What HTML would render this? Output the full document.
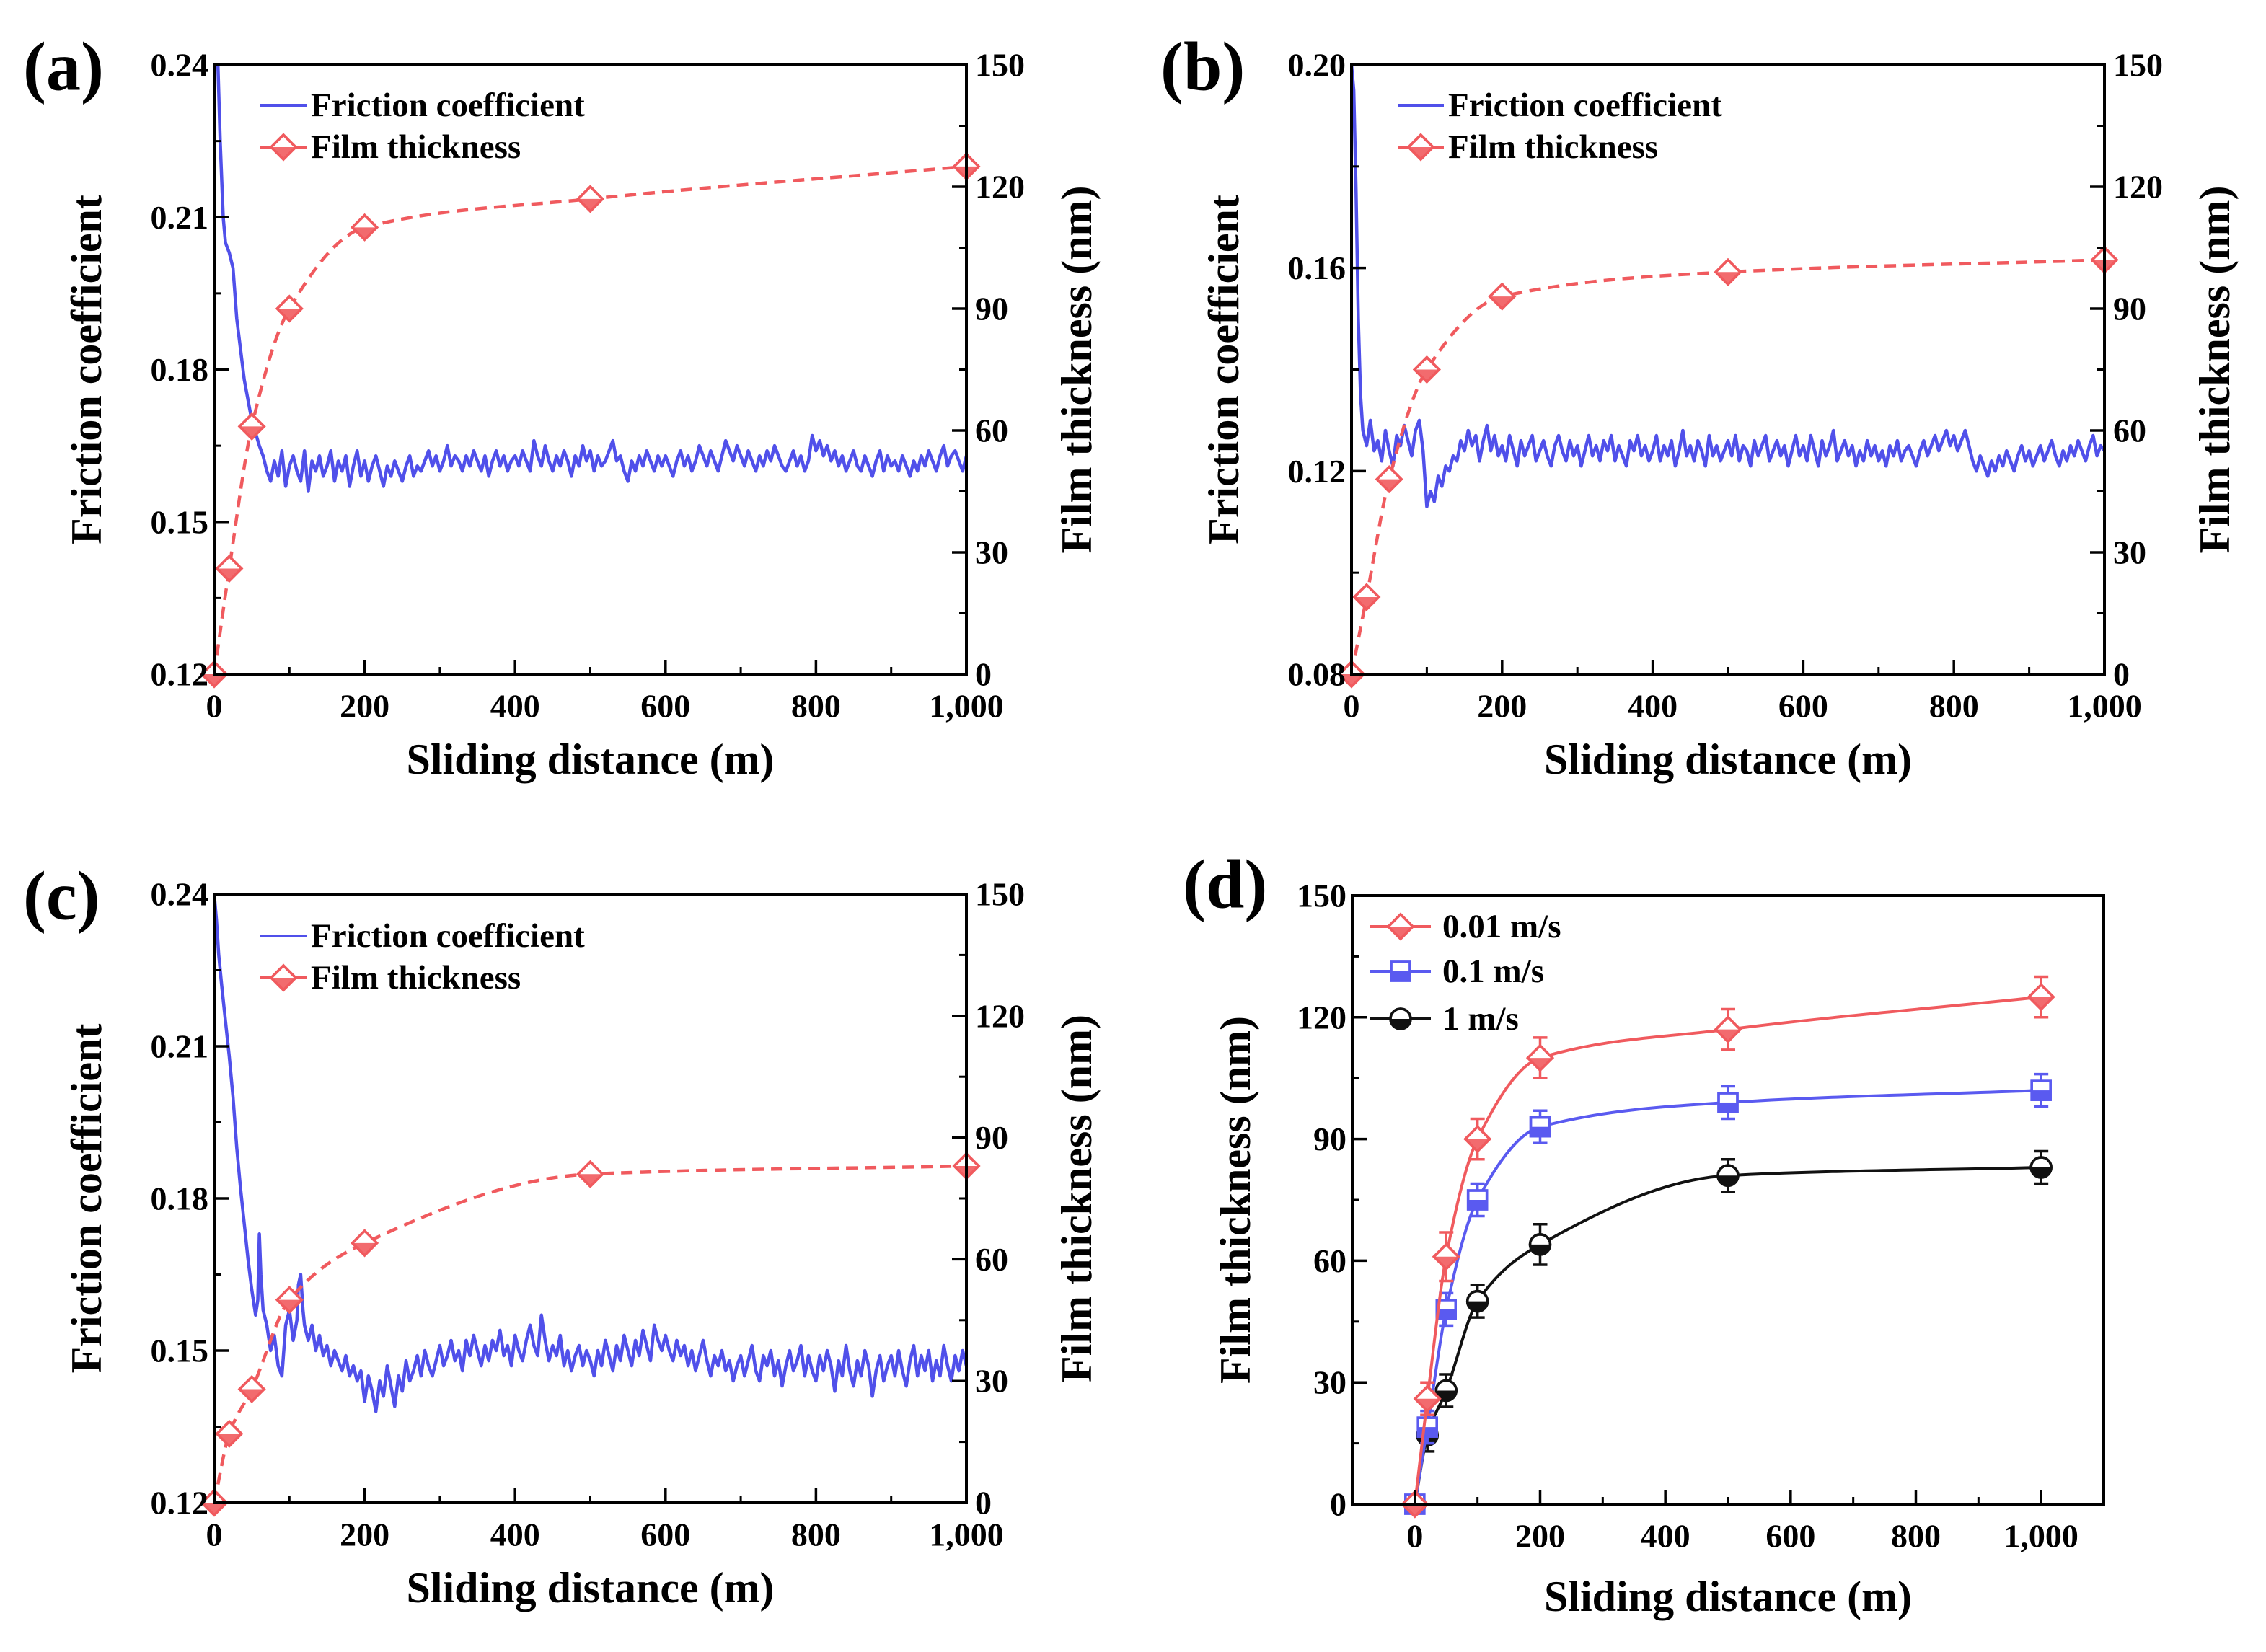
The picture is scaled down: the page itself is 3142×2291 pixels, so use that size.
<!DOCTYPE html>
<html><head><meta charset="utf-8"><style>
html,body{margin:0;padding:0;background:#fff;}
svg{display:block;font-family:"Liberation Serif",serif;font-weight:bold;}
</style></head><body>
<svg id="fig" width="3142" height="2291" viewBox="0 0 3142 2291" xmlns="http://www.w3.org/2000/svg"></svg>
<script>
// ---------------- data ----------------
const filmX = [0,20,50,100,200,500,1000];
const film001 = [0,26,61,90,110,117,125];
const film01 = [0,19,48,75,93,99,102];
const film1 = [0,17,28,50,64,81,83];
const filmErr001 = [0,4,6,5,5,5,5];
const filmErr01 = [0,4,4,4,4,4,4];
const filmErr1 = [0,4,4,4,5,4,4];

const fricAX0 = [0,5,8,12,15,20,25,30,40,50,60,65,70];
const fricAY0 = [.24,.24,.225,.21,.205,.203,.2,.19,.178,.17,.165,.163,.16];
const fricAStart = 75;
const fricAVals = "158 162 159 164 157 161 163 160 158 164 156 162 160 163 159 161 164 158 162 160 163 157 161 164 159 162 158 161 163 160 157 161 159 162 160 158 161 163 159 161 160 162 164 161 163 160 162 165 161 163 162 160 163 161 164 162 160 163 159 162 164 161 163 160 162 163 161 164 162 160 166 163 161 165 162 160 163 161 164 162 159 163 161 165 162 164 160 163 161 162 164 166 162 163 160 158 162 160 163 161 164 162 160 163 161 163 161 159 162 164 161 163 160 162 165 163 161 164 162 160 163 166 164 162 165 163 161 164 162 160 163 161 164 162 165 163 161 160 162 164 161 163 160 162 167 164 166 163 165 162 164 161 163 160 162 164 161 160 163 161 159 162 164 160 163 161 162 160 163 161 159 162 160 163 161 164 162 160 163 165 161 163 164 162 160 163";

const fricBX0 = [0,3,6,9,12,15,20,25,30];
const fricBY0 = [.20,.195,.175,.15,.135,.128,.125,.13,.124];
const fricBStart = 35;
const fricBVals = "126 122 128 124 121 127 125 129 126 123 128 130 124 113 116 114 119 117 121 120 123 122 126 124 128 125 127 122 126 129 124 127 123 125 122 127 124 121 126 123 125 127 122 124 126 123 121 125 127 124 122 126 123 125 121 124 127 123 125 122 126 124 127 122 125 123 121 126 124 127 123 125 122 124 127 122 125 123 126 121 124 128 123 125 122 126 124 121 127 123 125 122 124 126 123 127 122 125 124 121 126 123 125 127 122 124 126 123 125 121 124 127 123 125 122 127 124 121 126 123 125 128 122 124 126 123 125 121 124 122 126 123 125 122 124 121 125 123 126 122 124 125 123 121 124 126 123 125 127 124 126 128 125 127 124 126 128 125 122 120 123 121 119 122 120 123 121 124 122 120 123 125 122 124 121 123 125 122 124 126 123 121 124 122 125 123 126 124 122 125 127 123 125 124";

const fricCX0 = [0,3,6,10,15,20,25,30,35,40,45,50,55,58,60,62,65,70,75,80,85,90,95,100,105,110,112,115,118,120];
const fricCY0 = [.24,.235,.228,.222,.215,.208,.2,.19,.182,.175,.168,.162,.157,.160,.173,.165,.158,.155,.150,.153,.147,.145,.155,.158,.152,.156,.163,.165,.158,.155];
const fricCStart = 125;
const fricCVals = "152 155 150 153 149 151 147 150 148 146 149 145 147 144 146 140 145 142 138 144 141 147 143 139 145 142 148 144 146 149 145 150 147 145 148 151 147 149 152 148 150 146 152 149 153 150 147 151 148 152 150 154 149 151 147 153 150 148 152 155 151 149 157 152 148 151 149 153 147 150 146 149 151 147 150 148 145 150 147 152 149 146 151 148 153 150 147 152 149 154 151 148 155 152 150 153 150 148 152 149 151 147 150 146 149 152 148 145 149 147 150 146 148 144 147 149 145 148 151 146 144 149 147 150 145 148 143 147 150 146 148 151 145 149 146 144 149 146 150 147 142 148 145 151 146 143 148 145 150 147 141 146 149 144 147 149 145 150 146 143 148 151 145 149 146 150 144 148 145 151 147 144 149 146 150 147";

const xTicks = [0,200,400,600,800,1000];
const xTickLabels = ["0","200","400","600","800","1,000"];
const filmTicks = [0,30,60,90,120,150];
const fricTicksA = [0.12,0.15,0.18,0.21,0.24];
const fricTicksB = [0.08,0.12,0.16,0.20];

// ---------------- drawing ----------------
const NS="http://www.w3.org/2000/svg";
const svg=document.getElementById('fig');
const TICKF=46, TITLEF=60, LEGF=47, LETF=96;
function el(tag,attrs,parent){const e=document.createElementNS(NS,tag);for(const k in attrs)e.setAttribute(k,attrs[k]);(parent||svg).appendChild(e);return e;}
function txt(s,x,y,size,anchor,parent,rot){const t=el('text',{x:x,y:y,'font-size':size,'text-anchor':anchor||'middle','dominant-baseline':'central'},parent);if(rot)t.setAttribute('transform','rotate('+rot+' '+x+' '+y+')');t.textContent=s;return t;}
function scale(d0,d1,r0,r1){return v=>r0+(v-d0)/(d1-d0)*(r1-r0);}
function expand(start,str){const v=str.trim().split(/\s+/).map(Number);return {x:v.map((_,i)=>start+i*5),y:v.map(n=>n/1000)};}
function monoPath(px,py){
  const n=px.length,d=[],m=[];
  for(let i=0;i<n-1;i++)d.push((py[i+1]-py[i])/(px[i+1]-px[i]));
  m[0]=d[0];m[n-1]=d[n-2];
  for(let i=1;i<n-1;i++){if(d[i-1]*d[i]>0){const w1=2*(px[i+1]-px[i])+(px[i]-px[i-1]),w2=(px[i+1]-px[i])+2*(px[i]-px[i-1]);m[i]=(w1+w2)/(w1/d[i-1]+w2/d[i]);}else m[i]=0;}
  let s='M'+px[0]+','+py[0];
  for(let i=0;i<n-1;i++){const h=px[i+1]-px[i];s+=' C'+(px[i]+h/3)+','+(py[i]+m[i]*h/3)+' '+(px[i+1]-h/3)+','+(py[i+1]-m[i+1]*h/3)+' '+px[i+1]+','+py[i+1];}
  return s;
}
const RED='#f05a5e',RFILL='#f26b6e',BLUE='#5050ea';

function marker(kind,x,y,color,g){
  const r=17;
  const mg=el('g',{},g);
  
  
  if(kind==='circle'){
    el('circle',{cx:x,cy:y,r:14,fill:'#fff',stroke:color,'stroke-width':3.5},mg);
    el('path',{d:`M${x-14},${y} A14,14 0 0 0 ${x+14},${y} Z`,fill:color},mg);
    el('circle',{cx:x,cy:y,r:14,fill:'none',stroke:color,'stroke-width':3.5},mg);
  }else{
    const shape=kind==='diamond'?`M${x},${y-r} L${x+r},${y} L${x},${y+r} L${x-r},${y} Z`:`M${x-13},${y-13} H${x+13} V${y+13} H${x-13} Z`;
    el('path',{d:shape,fill:'#fff',stroke:color,'stroke-width':3.5},mg);
    if(kind==='diamond')el('path',{d:`M${x-r},${y} L${x+r},${y} L${x},${y+r} Z`,fill:RFILL},mg);
    else el('rect',{x:x-13,y:y,width:26,height:13,fill:color},mg);
    el('path',{d:shape,fill:'none',stroke:color,'stroke-width':3.5},mg);
  }
}

function axesFrame(g,L,R,T,B){
  const f=el('rect',{x:L,y:T,width:R-L,height:B-T,fill:'none',stroke:'#000','stroke-width':4},g);
  
}
function xAxis(g,sx,L,R,B,ticks,labels,minorStep,d0,d1){
  const ax=el('g',{},g);
  for(let v=d0;v<=d1+1e-9;v+=minorStep){const x=sx(v);if(x<L-1||x>R+1)continue;el('line',{x1:x,y1:B,x2:x,y2:B-10,stroke:'#000','stroke-width':3},ax);}
  ticks.forEach((v,i)=>{const x=sx(v);el('line',{x1:x,y1:B,x2:x,y2:B-20,stroke:'#000','stroke-width':3.5},ax);txt(labels[i],x,B+44,TICKF,'middle',ax);});
}
function yAxis(g,sy,T,B,x,ticks,labels,minors,side){
  const ax=el('g',{},g);
  const dir=side==='left'?1:-1;
  minors.forEach(v=>{const y=sy(v);el('line',{x1:x,y1:y,x2:x+dir*10,y2:y,stroke:'#000','stroke-width':3},ax);});
  ticks.forEach((v,i)=>{const y=sy(v);el('line',{x1:x,y1:y,x2:x+dir*20,y2:y,stroke:'#000','stroke-width':3.5},ax);
    txt(labels[i],side==='left'?x-8:x+12,y,TICKF,side==='left'?'end':'start',ax);});
}

function frictionPanel(name,letter,L,R,T,B,fr0,fr1,fTicks,fLabels,fMinors,x0,y0,start,vals,filmY,legendY){
  const g=el('g',{});
  const sx=scale(0,1000,L,R),sy=scale(fr0,fr1,B,T),sf=scale(0,150,B,T);
  const clip='clip'+name;
  const cp=el('clipPath',{id:clip},g);el('rect',{x:L,y:T,width:R-L,height:B-T},cp);
  const st=expand(start,vals);const xs=x0.concat(st.x),ys=y0.concat(st.y);
  const fl=el('polyline',{points:xs.map((x,i)=>sx(x).toFixed(1)+','+sy(ys[i]).toFixed(1)).join(' '),fill:'none',stroke:BLUE,'stroke-width':4.5,'stroke-linejoin':'round','clip-path':'url(#'+clip+')'},g);
  
  const px=filmX.map(sx),py=filmY.map(sf);
  const dl=el('path',{d:monoPath(px,py),fill:'none',stroke:RED,'stroke-width':4.5,'stroke-dasharray':'16 10'},g);
  
  filmX.forEach((v,i)=>marker('diamond',px[i],py[i],RED,g));
  axesFrame(g,L,R,T,B);
  xAxis(g,sx,L,R,B,xTicks,xTickLabels,100,0,1000);
  yAxis(g,sy,T,B,L,fTicks,fLabels,fMinors,'left');
  yAxis(g,sf,T,B,R,filmTicks,filmTicks.map(String),[15,45,75,105,135],'right');
  const t1=txt('Sliding distance (m)',(L+R)/2,B+118,TITLEF,'middle',g);
  const t2=txt('Friction coefficient',L-177,(T+B)/2,TITLEF,'middle',g,-90);
  const t3=txt('Film thickness (nm)',R+153,(T+B)/2,TITLEF,'middle',g,-90);
  const pl=txt(letter,L-265,T+2,LETF,'start',g);
  const lg=el('g',{},g);
  const e1=el('g',{},lg);
  el('line',{x1:L+64,y1:legendY,x2:L+128,y2:legendY,stroke:BLUE,'stroke-width':4},e1);
  txt('Friction coefficient',L+134,legendY,LEGF,'start',e1);
  const e2=el('g',{},lg);
  el('line',{x1:L+64,y1:legendY+58,x2:L+128,y2:legendY+58,stroke:RED,'stroke-width':4},e2);
  marker('diamond',L+96,legendY+58,RED,e2);
  txt('Film thickness',L+134,legendY+58,LEGF,'start',e2);
}

frictionPanel('a','(a)',297,1340,90,935,0.12,0.24,fricTicksA,["0.12","0.15","0.18","0.21","0.24"],[0.135,0.165,0.195,0.225],fricAX0,fricAY0,fricAStart,fricAVals,film001,146);
frictionPanel('b','(b)',1874,2918,90,935,0.08,0.20,fricTicksB,["0.08","0.12","0.16","0.20"],[0.10,0.14,0.18],fricBX0,fricBY0,fricBStart,fricBVals,film01,146);
frictionPanel('c','(c)',297,1340,1240,2084,0.12,0.24,fricTicksA,["0.12","0.15","0.18","0.21","0.24"],[0.135,0.165,0.195,0.225],fricCX0,fricCY0,fricCStart,fricCVals,film1,1298);

(function(){
  const L=1875,R=2917,T=1242,B=2086;
  const g=el('g',{});
  const sx=scale(-100,1100,L,R),sy=scale(0,150,B,T);
  const series=[{n:'1 m/s',y:film1,e:filmErr1,c:'#111',k:'circle'},{n:'0.1 m/s',y:film01,e:filmErr01,c:'#5a5af0',k:'square'},{n:'0.01 m/s',y:film001,e:filmErr001,c:RED,k:'diamond'}];
  series.forEach(s=>{
    const sg=el('g',{},g);
    const px=filmX.map(sx),py=s.y.map(sy);
    el('path',{d:monoPath(px,py),fill:'none',stroke:s.c,'stroke-width':4},sg);
    filmX.forEach((v,i)=>{
      if(s.e[i]>0){const eb=el('g',{},sg);
        const y1=sy(s.y[i]+s.e[i]),y2=sy(s.y[i]-s.e[i]);
        el('line',{x1:px[i],y1:y1,x2:px[i],y2:y2,stroke:s.c,'stroke-width':3.5},eb);
        el('line',{x1:px[i]-10,y1:y1,x2:px[i]+10,y2:y1,stroke:s.c,'stroke-width':3.5},eb);
        el('line',{x1:px[i]-10,y1:y2,x2:px[i]+10,y2:y2,stroke:s.c,'stroke-width':3.5},eb);}
      marker(s.k,px[i],py[i],s.c,sg);
    });
  });
  axesFrame(g,L,R,T,B);
  xAxis(g,sx,L,R,B,xTicks,xTickLabels,100,-100,1100);
  yAxis(g,sy,T,B,L,filmTicks,filmTicks.map(String),[15,45,75,105,135],'left');
  const t1=txt('Sliding distance (m)',(L+R)/2,B+128,TITLEF,'middle',g);
  const t2=txt('Film thickness (nm)',L-162,(T+B)/2,TITLEF,'middle',g,-90);
  const pl=txt('(d)',L-235,T-16,LETF,'start',g);
  const lg=el('g',{},g);
  [[series[2],1285],[series[1],1347],[series[0],1413]].forEach(([s,y])=>{
    const e=el('g',{},lg);
    el('line',{x1:1900,y1:y,x2:1984,y2:y,stroke:s.c,'stroke-width':4},e);
    marker(s.k,1942,y,s.c,e);
    txt(s.n,2000,y,LEGF,'start',e);
  });
})();
</script>
</body></html>
